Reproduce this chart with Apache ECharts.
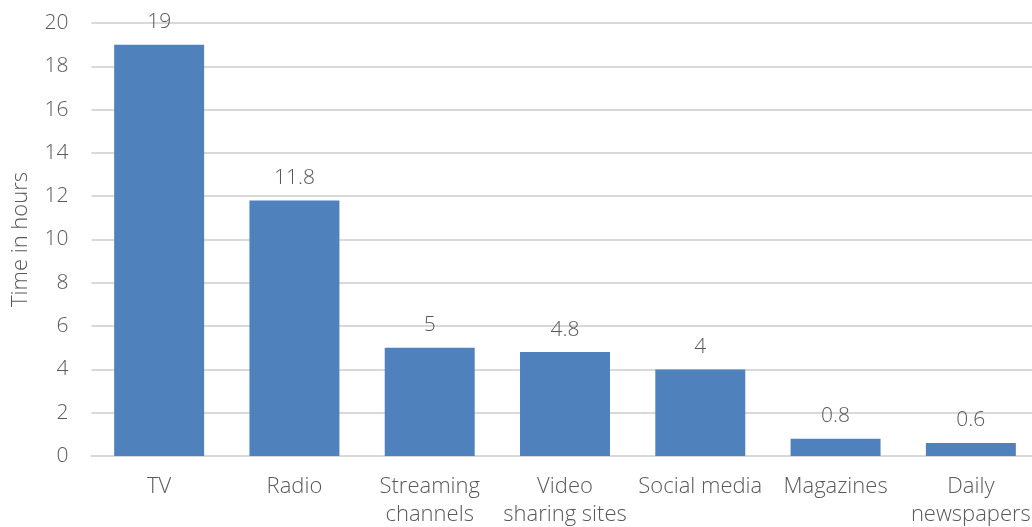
<!DOCTYPE html>
<html>
<head>
<meta charset="utf-8">
<script src="https://cdn.jsdelivr.net/npm/echarts@6/dist/echarts.min.js"></script>
<style>
  html, body { margin: 0; padding: 0; background: #fff; }
  #chart { width: 1032px; height: 527px; }
</style>
</head>
<body>
<div id="chart"></div>
<script>
// 分类与数值
const categories = ['TV', 'Radio', 'Streaming\nchannels', 'Video\nsharing sites', 'Social media', 'Magazines', 'Daily\nnewspapers'];
const hours = [19, 11.8, 5, 4.8, 4, 0.8, 0.6];

const textColor = '#595959';
const fontFamily = 'Open Sans, Lato, sans-serif';

const chart = echarts.init(document.getElementById('chart'));

chart.setOption({
    animation: false,
    grid: {
        left: 91.5,
        top: 23,
        width: 947,
        bottom: 71,
        outerBoundsMode: 'none',
        containLabel: false
    },
    xAxis: {
        type: 'category',
        data: categories,
        axisTick: { show: false },
        axisLine: { lineStyle: { color: '#d9d9d9', width: 2 } },
        axisLabel: {
            color: textColor,
            fontSize: 22,
            fontFamily: fontFamily,
            fontWeight: 300,
            lineHeight: 28,
            margin: 17,
            interval: 0
        }
    },
    yAxis: {
        type: 'value',
        min: 0,
        max: 20,
        interval: 2,
        name: 'Time in hours',
        nameLocation: 'middle',
        nameGap: 60,
        nameTextStyle: {
            color: textColor,
            fontSize: 22,
            fontFamily: fontFamily,
            fontWeight: 300
        },
        axisLine: { show: false },
        axisTick: { show: false },
        splitLine: { lineStyle: { color: '#d9d9d9', width: 2 } },
        axisLabel: {
            color: textColor,
            fontSize: 21,
            fontFamily: fontFamily,
            fontWeight: 300,
            margin: 23
        }
    },
    series: [{
        type: 'bar',
        data: hours,
        barWidth: '66.5%',
        itemStyle: { color: '#4f81bd' },
        label: {
            show: true,
            position: 'top',
            distance: 12,
            color: textColor,
            fontSize: 21,
            fontFamily: fontFamily,
            fontWeight: 300
        }
    }]
});
</script>
</body>
</html>
